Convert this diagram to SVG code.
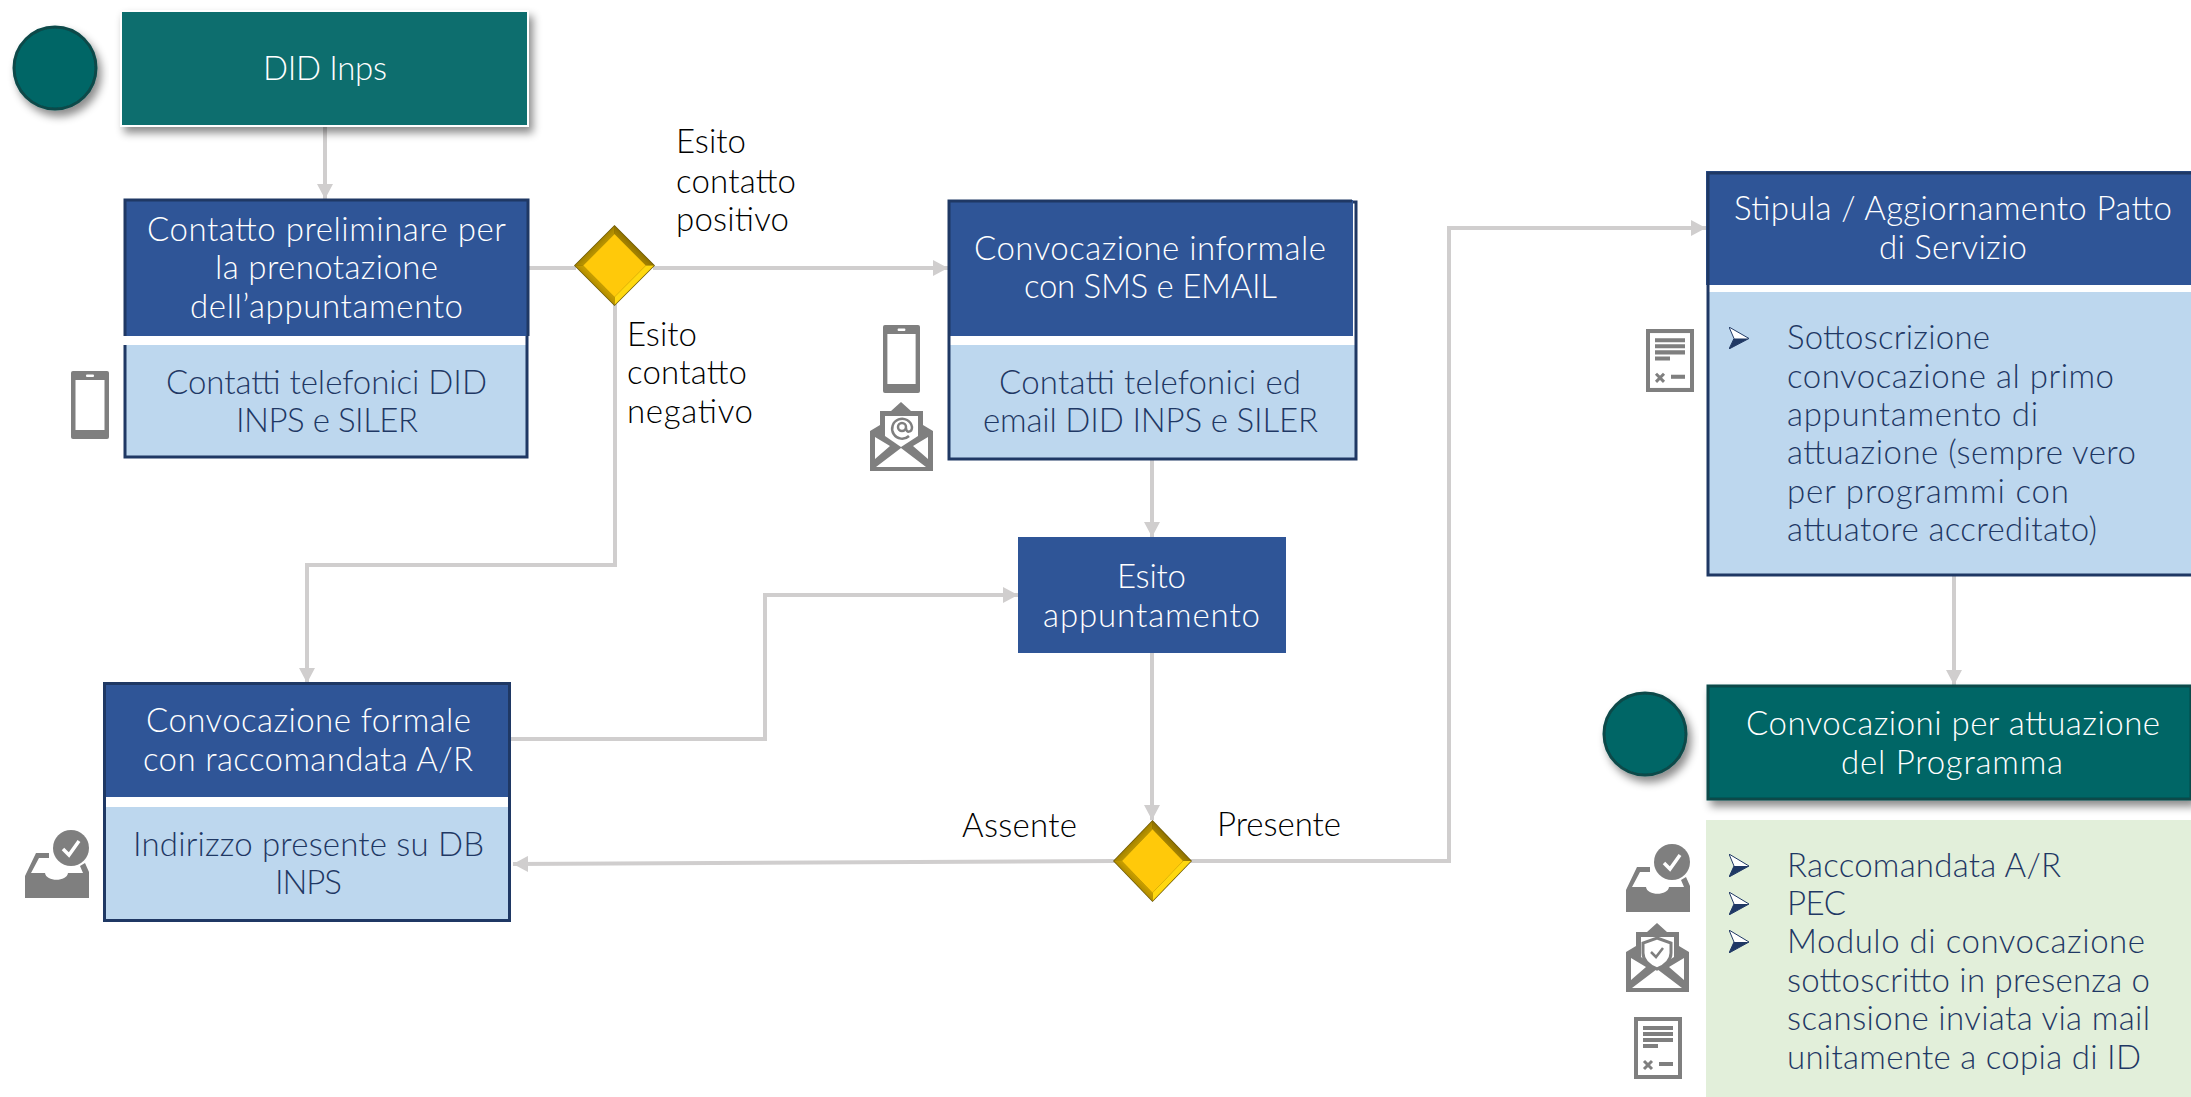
<svg xmlns="http://www.w3.org/2000/svg" width="2191" height="1097" viewBox="0 0 2191 1097">
<style>
text{font-family:"Lato","Liberation Sans",sans-serif;font-weight:300;font-size:33px}
.w{fill:#fff}.d{fill:#1f3864}.k{fill:#000}
.m{text-anchor:middle}
.c{fill:none;stroke:#d0cece;stroke-width:4}
.dark{fill:#2f5597}.light{fill:#bdd7ee}
.edge{fill:none;stroke:#1f3864;stroke-width:3}
</style>
<defs>
<filter id="sh" x="-10%" y="-15%" width="125%" height="140%"><feDropShadow dx="4" dy="6" stdDeviation="4" flood-color="#000" flood-opacity=".45"/></filter>
<marker id="ah" markerUnits="userSpaceOnUse" markerWidth="16" markerHeight="16" refX="15" refY="8" orient="auto"><path d="M0 0L15 8L0 16z" fill="#d0cece"/></marker>
<linearGradient id="tl" x1="0" y1="0" x2="1" y2="1"><stop offset=".35" stop-color="#7f6500"/><stop offset=".65" stop-color="#c79f00"/></linearGradient>
<linearGradient id="tr" x1="1" y1="0" x2="0" y2="1"><stop offset=".35" stop-color="#6f5800"/><stop offset=".65" stop-color="#b08c00"/></linearGradient>
<linearGradient id="bl" x1="0" y1="1" x2="1" y2="0"><stop offset=".35" stop-color="#8f7200"/><stop offset=".65" stop-color="#d5a800"/></linearGradient>
<symbol id="phone" viewBox="0 0 38 68" preserveAspectRatio="none"><rect width="38" height="68" rx="2" fill="#7f7f7f"/><rect x="4.500" y="9" width="29" height="50" fill="#fff"/><rect x="15" y="3.500" width="8" height="2.500" rx="1" fill="#fff"/></symbol>
<symbol id="env" viewBox="0 0 63 69" preserveAspectRatio="none"><path d="M31 0L41 9H53V23L63 29V69H0V29L10 23V9H21z" fill="#7f7f7f"/><path d="M15 14H48V34L31 45L15 34z" fill="#fff"/><path d="M5 35L20 44L5 57zM58 35L43 44L58 57zM31 46L56 65H6z" fill="#fff"/></symbol>
<symbol id="doc" viewBox="0 0 48 62" preserveAspectRatio="none"><rect x="2" y="2" width="44" height="58" fill="#fff" stroke="#7f7f7f" stroke-width="4"/><path d="M9 11H39M9 17H39M9 23H39M9 29H24" stroke="#7f7f7f" stroke-width="4"/><path d="M10 44L18 52M18 44L10 52" stroke="#7f7f7f" stroke-width="3"/><path d="M25 47H39" stroke="#7f7f7f" stroke-width="4"/></symbol>
<symbol id="inbox" viewBox="0 0 64 68" preserveAspectRatio="none"><path d="M0 46L11 23H24V28L14 28L6 43H20C21 52 42 52 43 43H58L55 36L60 33L64 42V68H0z" fill="#7f7f7f"/><circle cx="46" cy="18" r="18" fill="#7f7f7f"/><path d="M38 19L44 25L54 11" fill="none" stroke="#fff" stroke-width="3.500"/></symbol>
<symbol id="bul" viewBox="0 0 20 23" preserveAspectRatio="none"><path d="M0 0L20 12L0 23L5 12z" fill="#fff" stroke="#1f3864" stroke-width="1"/><path d="M5 12H20L0 23z" fill="#1f3864"/></symbol>
<symbol id="dia" viewBox="0 0 80 80" preserveAspectRatio="none"><path d="M40 0L80 40L40 80L0 40z" fill="#6b5600"/><path d="M40 1L40 9L9 40L1 40z" fill="url(#tl)"/><path d="M40 1L79 40L71 40L40 9z" fill="url(#tr)"/><path d="M79 40L40 79L40 71L71 40z" fill="#ffd80f"/><path d="M1 40L40 79L40 71L9 40z" fill="url(#bl)"/><path d="M40 9L71 40L40 71L9 40z" fill="#ffc90a"/></symbol>
</defs>

<g id="connectors">
<path class="c" d="M325 126V199" marker-end="url(#ah)"/>
<path class="c" d="M528 268H576"/>
<path class="c" d="M653 268H948" marker-end="url(#ah)"/>
<path class="c" d="M615 304V565H307V683" marker-end="url(#ah)"/>
<path class="c" d="M1152 460V537" marker-end="url(#ah)"/>
<path class="c" d="M511 739H765V595H1018" marker-end="url(#ah)"/>
<path class="c" d="M1152 652V820" marker-end="url(#ah)"/>
<path class="c" d="M1115 861L513 864" marker-end="url(#ah)"/>
<path class="c" d="M1190 861H1449V228H1706" marker-end="url(#ah)"/>
<path class="c" d="M1954 575V685" marker-end="url(#ah)"/>
</g>

<g id="start"><circle cx="55" cy="68" r="41" fill="#006666" stroke="#0a4a4a" stroke-width="3" filter="url(#sh)"/></g>
<g id="did-inps"><rect x="121" y="11" width="407" height="115" fill="#076e6e" stroke="#fff" stroke-width="2" filter="url(#sh)"/>
<text class="w m" x="325" y="80" textLength="124">DID Inps</text></g>

<g id="contatto">
<rect class="light" x="124" y="345" width="403" height="112"/>
<path class="edge" d="M125 345V457H527V336"/>
<rect class="dark" x="124" y="199" width="405" height="137"/>
<path class="edge" d="M125 336V200H528V336"/>
<text class="w" x="147" y="241" textLength="359">Contatto preliminare per</text>
<text class="w" x="215" y="279" textLength="223">la prenotazione</text>
<text class="w" x="190" y="318" textLength="273">dell’appuntamento</text>
<text class="d" x="166" y="394" textLength="321">Contatti telefonici DID</text>
<text class="d" x="236" y="432" textLength="182">INPS e SILER</text>
<use href="#phone" x="71" y="371" width="38" height="68"/>
</g>

<g id="decision-contatto"><use href="#dia" x="574" y="225" width="81" height="81"/></g>
<g id="label-positivo"><text class="k" x="676" y="153" textLength="70">Esito</text><text class="k" x="676" y="193" textLength="120">contatto</text><text class="k" x="676" y="231" textLength="113">positivo</text></g>
<g id="label-negativo"><text class="k" x="627" y="346" textLength="70">Esito</text><text class="k" x="627" y="384" textLength="120">contatto</text><text class="k" x="627" y="423" textLength="126">negativo</text></g>

<g id="informale">
<rect class="light" x="949" y="345" width="407" height="114"/>
<path class="edge" d="M949 336V459H1356V202H1350"/>
<rect class="dark" x="948" y="200" width="405" height="136"/>
<path class="edge" d="M949 336V201H1352"/>
<text class="w" x="974" y="260" textLength="352">Convocazione informale</text>
<text class="w" x="1024" y="298" textLength="253">con SMS e EMAIL</text>
<text class="d" x="999" y="394" textLength="302">Contatti telefonici ed</text>
<text class="d" x="983" y="432" textLength="335">email DID INPS e SILER</text>
<use href="#phone" x="883" y="325" width="37" height="68"/>
<use href="#env" x="870" y="402" width="63" height="69"/>
<g fill="none" stroke="#7f7f7f" stroke-width="2.500"><path d="M909 436A10 10 0 1 1 912 427C912 433 906 433 906 428"/><circle cx="902" cy="427" r="4"/></g>
</g>

<g id="esito"><rect x="1018" y="537" width="268" height="116" fill="#2f5597"/>
<text class="w" x="1117" y="588" textLength="69">Esito</text>
<text class="w" x="1043" y="627" textLength="217">appuntamento</text></g>

<g id="formale">
<rect class="light" x="103" y="807" width="408" height="115"/>
<path class="edge" d="M104.500 797V920.500H509.500V797"/>
<rect class="dark" x="103" y="682" width="408" height="115"/>
<path class="edge" d="M104.500 797V683.500H509.500V797"/>
<text class="w" x="146" y="732" textLength="325">Convocazione formale</text>
<text class="w" x="143" y="771" textLength="330">con raccomandata A/R</text>
<text class="d" x="133" y="856" textLength="351">Indirizzo presente su DB</text>
<text class="d" x="275" y="894" textLength="67">INPS</text>
<use href="#inbox" x="25" y="830" width="64" height="68"/>
</g>

<g id="decision-esito"><use href="#dia" x="1113" y="820" width="79" height="82"/></g>
<g id="label-assente"><text class="k" x="962" y="837" textLength="115">Assente</text></g>
<g id="label-presente"><text class="k" x="1217" y="836" textLength="124">Presente</text></g>

<g id="patto">
<rect class="light" x="1708" y="292" width="483" height="283"/>
<path class="edge" d="M1708 285V575H2191"/>
<rect class="dark" x="1706" y="171" width="485" height="114"/>
<path class="edge" d="M1708 285V173H2191"/>
<text class="w" x="1734" y="220" textLength="438">Stipula / Aggiornamento Patto</text>
<text class="w" x="1879" y="259" textLength="148">di Servizio</text>
<use href="#bul" x="1729" y="327" width="20" height="22"/>
<text class="d" x="1787" y="349" textLength="203">Sottoscrizione</text>
<text class="d" x="1787" y="388" textLength="327">convocazione al primo</text>
<text class="d" x="1787" y="426" textLength="251">appuntamento di</text>
<text class="d" x="1787" y="464" textLength="349">attuazione (sempre vero</text>
<text class="d" x="1787" y="503" textLength="282">per programmi con</text>
<text class="d" x="1787" y="541" textLength="310">attuatore accreditato)</text>
<use href="#doc" x="1646" y="329" width="48" height="63"/>
</g>

<g id="end"><circle cx="1645" cy="734" r="41" fill="#006666" stroke="#0a4a4a" stroke-width="3" filter="url(#sh)"/></g>
<g id="attuazione"><rect x="1708" y="686" width="483" height="113" fill="#006666" stroke="#0a4a4a" stroke-width="3" filter="url(#sh)"/>
<text class="w" x="1746" y="735" textLength="414">Convocazioni per attuazione</text>
<text class="w" x="1841" y="774" textLength="222">del Programma</text></g>

<g id="modalita">
<rect x="1706" y="820" width="485" height="277" fill="#e2efda"/>
<use href="#bul" x="1729" y="854" width="20" height="23"/>
<use href="#bul" x="1729" y="892" width="20" height="23"/>
<use href="#bul" x="1729" y="930" width="20" height="23"/>
<text class="d" x="1787" y="877" textLength="274">Raccomandata A/R</text>
<text class="d" x="1787" y="915" textLength="59">PEC</text>
<text class="d" x="1787" y="953" textLength="358">Modulo di convocazione</text>
<text class="d" x="1787" y="992" textLength="363">sottoscritto in presenza o</text>
<text class="d" x="1787" y="1030" textLength="363">scansione inviata via mail</text>
<text class="d" x="1787" y="1069" textLength="354">unitamente a copia di ID</text>
<use href="#inbox" x="1626" y="844" width="64" height="68"/>
<use href="#env" x="1626" y="923" width="63" height="69"/>
<path d="M1657 938L1671 943V953C1671 961 1664 966 1657 969C1650 966 1643 961 1643 953V943z" fill="#fff" stroke="#7f7f7f" stroke-width="3"/>
<path d="M1651 952L1656 957L1663 948" fill="none" stroke="#7f7f7f" stroke-width="2.500"/>
<use href="#doc" x="1634" y="1017" width="48" height="62"/>
</g>
</svg>
